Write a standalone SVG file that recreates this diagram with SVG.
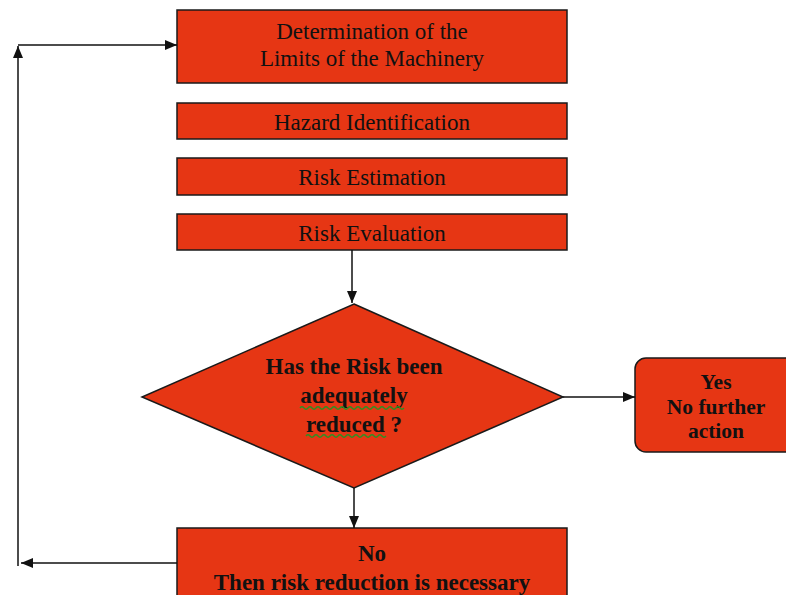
<svg xmlns="http://www.w3.org/2000/svg" width="786" height="595" viewBox="0 0 786 595">
  <style>
    .box { fill: #E63614; stroke: #1a1a1a; stroke-width: 1.5; }
    .lbl { font-family: "Liberation Serif", "Times New Roman", serif; font-size: 23px; fill: #111; text-anchor: middle; }
    .bold { font-weight: bold; }
    .small { font-size: 21.5px; }
    .wire { fill: none; stroke: #111; stroke-width: 1.5; }
    .squig { fill: none; stroke: #2f8f23; stroke-width: 1.4; }
  </style>
  <defs>
    <marker id="arrow" viewBox="0 0 12 10" refX="12" refY="5" markerWidth="12" markerHeight="10" markerUnits="userSpaceOnUse" orient="auto">
      <path d="M0,0 L12,5 L0,10 Z" fill="#111"/>
    </marker>
  </defs>

  <g id="limits">
    <rect class="box" x="177" y="10" width="390" height="73"/>
    <text class="lbl" x="372" y="39">Determination of the</text>
    <text class="lbl" x="372" y="66">Limits of the Machinery</text>
  </g>

  <g id="hazard-identification">
    <rect class="box" x="177" y="103" width="390" height="36"/>
    <text class="lbl" x="372" y="130">Hazard Identification</text>
  </g>

  <g id="risk-estimation">
    <rect class="box" x="177" y="158" width="390" height="37"/>
    <text class="lbl" x="372" y="185">Risk Estimation</text>
  </g>

  <g id="risk-evaluation">
    <rect class="box" x="177" y="214" width="390" height="36"/>
    <text class="lbl" x="372" y="241">Risk Evaluation</text>
  </g>

  <g id="decision">
    <polygon class="box" points="354,304 563,397 354,488 142,397"/>
    <text class="lbl bold" x="354" y="374">Has the Risk been</text>
    <text class="lbl bold" x="354" y="403">adequately</text>
    <text class="lbl bold" x="354" y="432">reduced ?</text>
    <!-- spell-check underlines -->
    <path class="squig" d="M300,408 q2,-2.4 4,0 t4,0 t4,0 t4,0 t4,0 t4,0 t4,0 t4,0 t4,0 t4,0 t4,0 t4,0 t4,0 t4,0 t4,0 t4,0 t4,0 t4,0 t4,0 t4,0 t4,0 t4,0 t4,0 t4,0 t4,0 t4,0"/>
    <path class="squig" d="M306,436 q2,-2.4 4,0 t4,0 t4,0 t4,0 t4,0 t4,0 t4,0 t4,0 t4,0 t4,0 t4,0 t4,0 t4,0 t4,0 t4,0 t4,0 t4,0 t4,0 t4,0 t4,0"/>
  </g>

  <g id="no-further-action">
    <rect class="box" x="635" y="358" width="170" height="94" rx="11" ry="11"/>
    <text class="lbl bold small" x="716" y="389">Yes</text>
    <text class="lbl bold small" x="716" y="414">No further</text>
    <text class="lbl bold small" x="716" y="438">action</text>
  </g>

  <g id="risk-reduction">
    <rect class="box" x="177" y="528" width="390" height="80"/>
    <text class="lbl bold" x="372" y="561">No</text>
    <text class="lbl bold" x="372" y="590">Then risk reduction is necessary</text>
  </g>

  <g id="connectors">
    <line class="wire" x1="352" y1="250" x2="352" y2="303" marker-end="url(#arrow)"/>
    <line class="wire" x1="563" y1="397" x2="635" y2="397" marker-end="url(#arrow)"/>
    <line class="wire" x1="354" y1="488" x2="354" y2="528" marker-end="url(#arrow)"/>
    <line class="wire" x1="177" y1="563" x2="21" y2="563" marker-end="url(#arrow)"/>
    <line class="wire" x1="18" y1="566" x2="18" y2="46" marker-end="url(#arrow)"/>
    <line class="wire" x1="18" y1="45" x2="177" y2="45" marker-end="url(#arrow)"/>
  </g>
</svg>
